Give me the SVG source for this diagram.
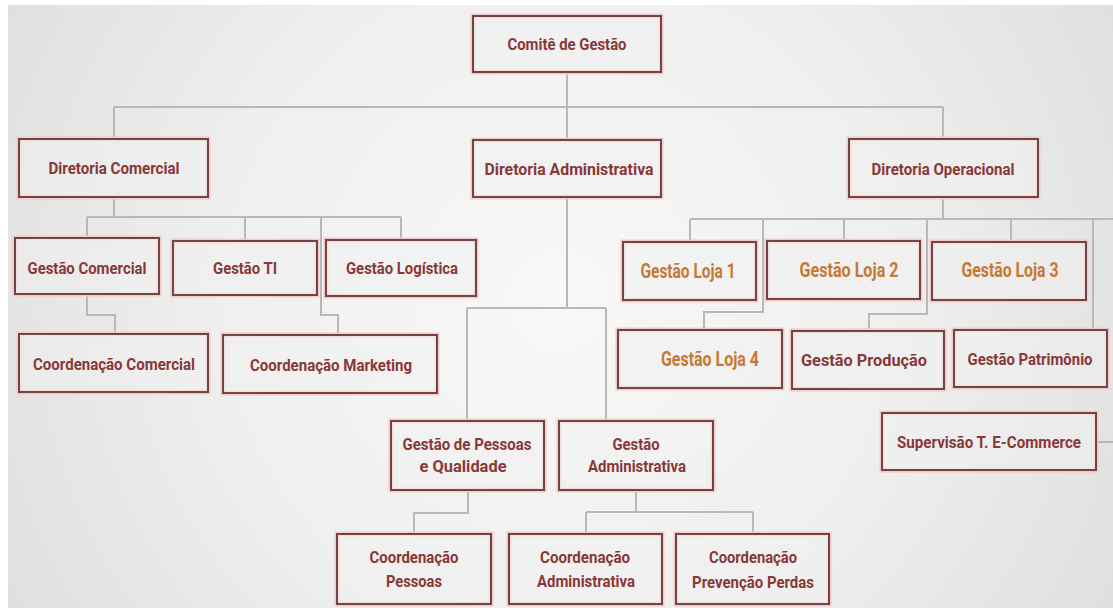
<svg xmlns="http://www.w3.org/2000/svg" width="1113" height="608" viewBox="0 0 1113 608">
<defs>
<radialGradient id="bg" cx="560" cy="300" r="620" gradientUnits="userSpaceOnUse">
<stop offset="0" stop-color="#f8f8f8"/>
<stop offset="0.55" stop-color="#efefef"/>
<stop offset="1" stop-color="#e0e0e0"/>
</radialGradient>
</defs>
<style>
.halo{fill:none;stroke:#f3caca;stroke-width:5}
.box{fill:#f1f1f1;fill-opacity:0.55;stroke:#744444;stroke-width:2}
.t{font-family:Roboto,"Liberation Sans",sans-serif;font-weight:700;font-size:17px;fill:#893838;text-anchor:middle}
.l{font-family:Roboto,"Liberation Sans",sans-serif;font-weight:700;font-size:21px;fill:#c47934;text-anchor:middle}
.c{fill:none;stroke:#b8b8b8;stroke-width:2}
</style>
<rect x="0" y="0" width="1113" height="608" fill="#ffffff"/>
<rect x="8" y="5" width="1105" height="603" fill="url(#bg)"/>

<g id="connectors" class="c">
<path d="M567,72 V140"/>
<path d="M114,107 H943"/>
<path d="M114,107 V139"/>
<path d="M943,107 V139"/>
<path d="M114,197 V217"/>
<path d="M87,217 H401"/>
<path d="M87,217 V238"/>
<path d="M245,217 V241"/>
<path d="M321,217 V315 H338 V335"/>
<path d="M401,217 V240"/>
<path d="M87,294 V315 H115 V334"/>
<path d="M567,197 V308"/>
<path d="M467,308 H606"/>
<path d="M467,308 V421"/>
<path d="M606,308 V421"/>
<path d="M468,490 V513 H414 V534"/>
<path d="M636,490 V512"/>
<path d="M586,512 H753"/>
<path d="M586,512 V534"/>
<path d="M753,512 V534"/>
<path d="M943,197 V219"/>
<path d="M690,219 H1113"/>
<path d="M690,219 V242"/>
<path d="M763,219 V312 H704 V330"/>
<path d="M844,219 V241"/>
<path d="M927,219 V314 H869 V331"/>
<path d="M1011,219 V242"/>
<path d="M1093,219 V330"/>
<path d="M1096,442 H1113"/>
</g>

<g id="comite"><rect class="halo" x="473" y="16" width="188" height="56"/><rect class="box" x="473" y="16" width="188" height="56"/><text class="t" x="567" y="50" textLength="119" lengthAdjust="spacingAndGlyphs">Comitê de Gestão</text></g>

<g id="dir-comercial"><rect class="halo" x="19" y="139" width="189" height="58"/><rect class="box" x="19" y="139" width="189" height="58"/><text class="t" x="114" y="174" textLength="131" lengthAdjust="spacingAndGlyphs">Diretoria Comercial</text></g>

<g id="dir-administrativa"><rect class="halo" x="473" y="140" width="188" height="57"/><rect class="box" x="473" y="140" width="188" height="57"/><text class="t" x="569" y="175" textLength="169" lengthAdjust="spacingAndGlyphs">Diretoria Administrativa</text></g>

<g id="dir-operacional"><rect class="halo" x="849" y="139" width="189" height="58"/><rect class="box" x="849" y="139" width="189" height="58"/><text class="t" x="943" y="175" textLength="143" lengthAdjust="spacingAndGlyphs">Diretoria Operacional</text></g>

<g id="gestao-comercial"><rect class="halo" x="15" y="238" width="144" height="56"/><rect class="box" x="15" y="238" width="144" height="56"/><text class="t" x="87" y="274" textLength="119" lengthAdjust="spacingAndGlyphs">Gestão Comercial</text></g>

<g id="gestao-ti"><rect class="halo" x="173" y="241" width="144" height="54"/><rect class="box" x="173" y="241" width="144" height="54"/><text class="t" x="245" y="274" textLength="64" lengthAdjust="spacingAndGlyphs">Gestão TI</text></g>

<g id="gestao-logistica"><rect class="halo" x="326" y="240" width="150" height="56"/><rect class="box" x="326" y="240" width="150" height="56"/><text class="t" x="402" y="274" textLength="112" lengthAdjust="spacingAndGlyphs">Gestão Logística</text></g>

<g id="coord-comercial"><rect class="halo" x="19" y="334" width="189" height="58"/><rect class="box" x="19" y="334" width="189" height="58"/><text class="t" x="114" y="370" textLength="162" lengthAdjust="spacingAndGlyphs">Coordenação Comercial</text></g>

<g id="coord-marketing"><rect class="halo" x="223" y="335" width="214" height="58"/><rect class="box" x="223" y="335" width="214" height="58"/><text class="t" x="331" y="371" textLength="162" lengthAdjust="spacingAndGlyphs">Coordenação Marketing</text></g>

<g id="loja1"><rect class="halo" x="623" y="242" width="133" height="58"/><rect class="box" x="623" y="242" width="133" height="58"/><text class="l" x="688" y="278" textLength="95" lengthAdjust="spacingAndGlyphs">Gestão Loja 1</text></g>

<g id="loja2"><rect class="halo" x="767" y="241" width="153" height="58"/><rect class="box" x="767" y="241" width="153" height="58"/><text class="l" x="849" y="277" textLength="99" lengthAdjust="spacingAndGlyphs">Gestão Loja 2</text></g>

<g id="loja3"><rect class="halo" x="932" y="242" width="154" height="58"/><rect class="box" x="932" y="242" width="154" height="58"/><text class="l" x="1010" y="277" textLength="97" lengthAdjust="spacingAndGlyphs">Gestão Loja 3</text></g>

<g id="loja4"><rect class="halo" x="618" y="330" width="164" height="58"/><rect class="box" x="618" y="330" width="164" height="58"/><text class="l" x="710" y="366" textLength="98" lengthAdjust="spacingAndGlyphs">Gestão Loja 4</text></g>

<g id="gestao-producao"><rect class="halo" x="792" y="331" width="152" height="58"/><rect class="box" x="792" y="331" width="152" height="58"/><text class="t" x="864" y="366" textLength="126" lengthAdjust="spacingAndGlyphs">Gestão Produção</text></g>

<g id="gestao-patrimonio"><rect class="halo" x="954" y="330" width="153" height="57"/><rect class="box" x="954" y="330" width="153" height="57"/><text class="t" x="1030" y="365" textLength="125" lengthAdjust="spacingAndGlyphs">Gestão Patrimônio</text></g>

<g id="supervisao"><rect class="halo" x="882" y="413" width="214" height="57"/><rect class="box" x="882" y="413" width="214" height="57"/><text class="t" x="989" y="448" textLength="184" lengthAdjust="spacingAndGlyphs">Supervisão T. E-Commerce</text></g>

<g id="gestao-pessoas"><rect class="halo" x="391" y="421" width="153" height="69"/><rect class="box" x="391" y="421" width="153" height="69"/><text class="t" x="467" y="450" textLength="129" lengthAdjust="spacingAndGlyphs">Gestão de Pessoas</text><text class="t" x="463" y="472" textLength="87" lengthAdjust="spacingAndGlyphs">e Qualidade</text></g>

<g id="gestao-administrativa"><rect class="halo" x="559" y="421" width="154" height="69"/><rect class="box" x="559" y="421" width="154" height="69"/><text class="t" x="636" y="450" textLength="47" lengthAdjust="spacingAndGlyphs">Gestão</text><text class="t" x="637" y="472" textLength="98" lengthAdjust="spacingAndGlyphs">Administrativa</text></g>

<g id="coord-pessoas"><rect class="halo" x="337" y="534" width="154" height="70"/><rect class="box" x="337" y="534" width="154" height="70"/><text class="t" x="414" y="563" textLength="89" lengthAdjust="spacingAndGlyphs">Coordenação</text><text class="t" x="414" y="587" textLength="56" lengthAdjust="spacingAndGlyphs">Pessoas</text></g>

<g id="coord-administrativa"><rect class="halo" x="509" y="534" width="153" height="70"/><rect class="box" x="509" y="534" width="153" height="70"/><text class="t" x="585" y="563" textLength="90" lengthAdjust="spacingAndGlyphs">Coordenação</text><text class="t" x="586" y="587" textLength="98" lengthAdjust="spacingAndGlyphs">Administrativa</text></g>

<g id="coord-prevencao"><rect class="halo" x="676" y="534" width="153" height="70"/><rect class="box" x="676" y="534" width="153" height="70"/><text class="t" x="753" y="563" textLength="88" lengthAdjust="spacingAndGlyphs">Coordenação</text><text class="t" x="753" y="588" textLength="122" lengthAdjust="spacingAndGlyphs">Prevenção Perdas</text></g>
</svg>
